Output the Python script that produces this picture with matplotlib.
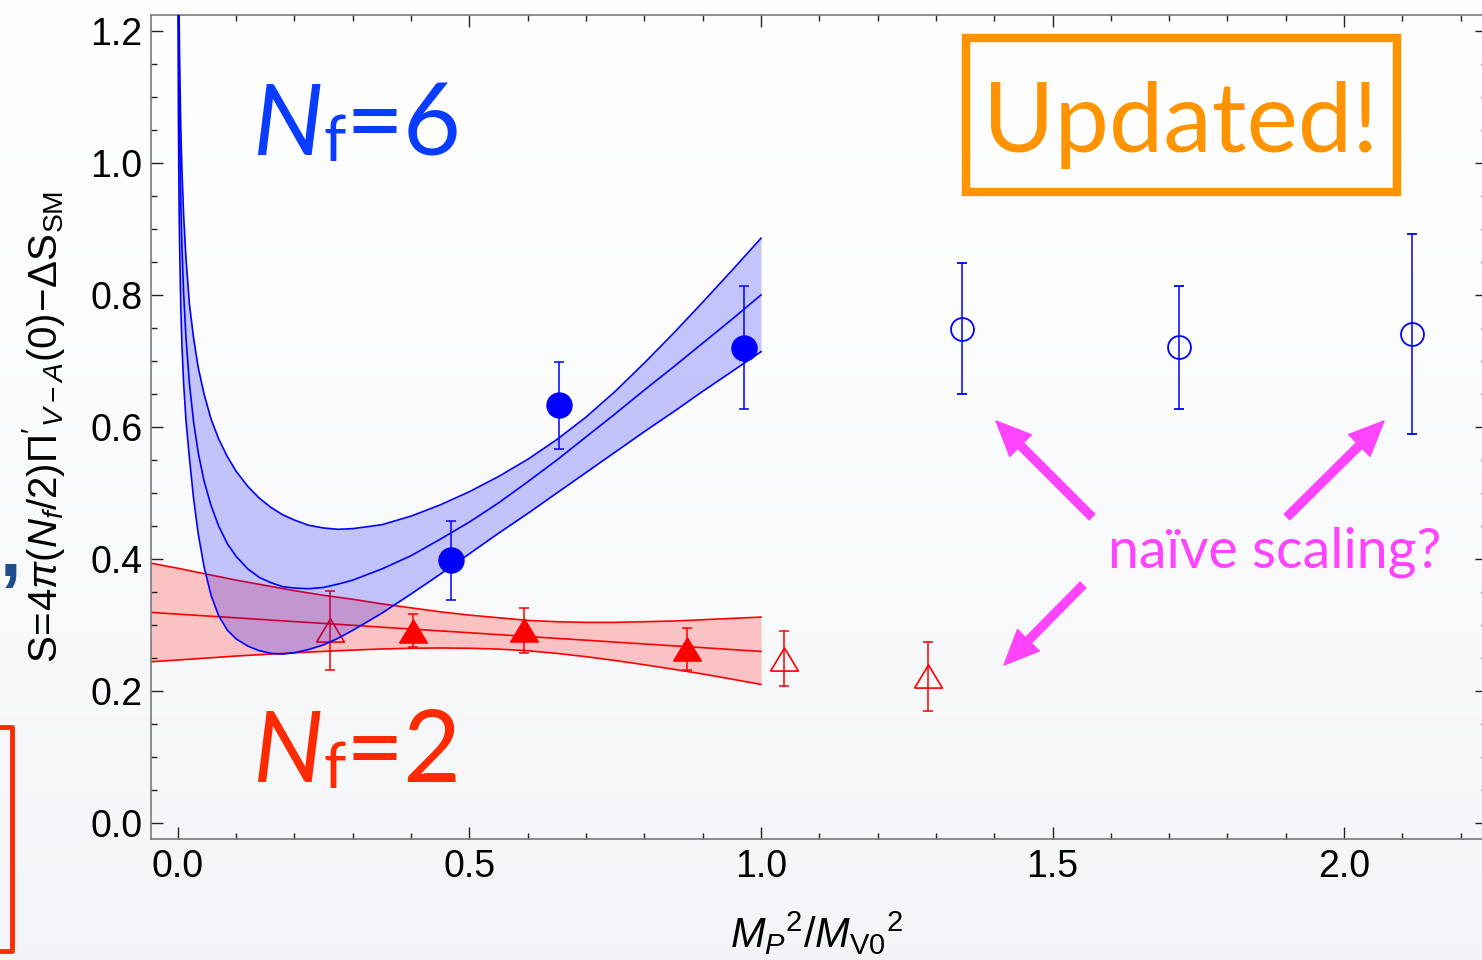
import numpy as np
import matplotlib
matplotlib.use("Agg")
import matplotlib.pyplot as plt
from matplotlib.patches import Rectangle
from matplotlib.lines import Line2D
from matplotlib.ticker import MultipleLocator, FormatStrFormatter

plt.rcParams['font.family'] = ['Liberation Sans', 'DejaVu Sans']
plt.rcParams['mathtext.fontset'] = 'custom'
plt.rcParams['mathtext.rm'] = 'Liberation Sans'
plt.rcParams['mathtext.it'] = 'Liberation Sans:italic'
plt.rcParams['mathtext.bf'] = 'Liberation Sans:bold'

### data

# Nf=6 fit band (lower / central / upper curve)
band6_x = [0.0002, 0.0005, 0.001, 0.002, 0.003, 0.005, 0.007, 0.01, 0.014, 0.02,
           0.027, 0.035, 0.045, 0.057, 0.07, 0.085, 0.1, 0.12, 0.14, 0.16,
           0.18, 0.2, 0.225, 0.25, 0.275, 0.3, 0.35, 0.4, 0.45, 0.5,
           0.55, 0.6, 0.65, 0.7, 0.75, 0.8, 0.85, 0.9, 0.95, 1.0]
band6_lo = [1.370, 1.200, 1.075, 0.950, 0.878, 0.785, 0.725, 0.665, 0.610, 0.552,
            0.492, 0.438, 0.388, 0.345, 0.314, 0.292, 0.279, 0.268, 0.261, 0.257,
            0.256, 0.258, 0.263, 0.270, 0.280, 0.292, 0.318, 0.347, 0.377, 0.408,
            0.439, 0.469, 0.500, 0.531, 0.562, 0.593, 0.623, 0.654, 0.684, 0.714]
band6_mid = [1.617, 1.424, 1.279, 1.133, 1.049, 0.943, 0.874, 0.802, 0.735, 0.665,
             0.608, 0.561, 0.518, 0.481, 0.450, 0.423, 0.404, 0.385, 0.372, 0.364,
             0.358, 0.356, 0.355, 0.357, 0.362, 0.368, 0.385, 0.405, 0.430, 0.456,
             0.485, 0.517, 0.550, 0.585, 0.620, 0.656, 0.691, 0.727, 0.763, 0.800]
band6_hi = [1.700, 1.520, 1.380, 1.240, 1.160, 1.055, 0.990, 0.920, 0.855, 0.785,
            0.735, 0.690, 0.650, 0.612, 0.582, 0.555, 0.533, 0.510, 0.492, 0.478,
            0.467, 0.459, 0.451, 0.447, 0.445, 0.446, 0.452, 0.465, 0.482, 0.502,
            0.525, 0.551, 0.581, 0.615, 0.654, 0.697, 0.742, 0.789, 0.837, 0.886]

# Nf=2 fit band
band2_x = [-0.06, 0.0, 0.05, 0.1, 0.15, 0.2, 0.25, 0.3, 0.35, 0.4, 0.45,
           0.5, 0.55, 0.6, 0.65, 0.7, 0.75, 0.8, 0.85, 0.9, 0.95, 1.0]
band2_hi = [0.396, 0.386, 0.377, 0.368, 0.360, 0.352, 0.345, 0.339, 0.332, 0.326, 0.320,
            0.315, 0.311, 0.307, 0.305, 0.304, 0.304, 0.305, 0.306, 0.308, 0.310, 0.312]
band2_mid = [0.320, 0.3165, 0.3137, 0.3109, 0.308, 0.3052, 0.3024, 0.2996, 0.2967, 0.2939, 0.2911,
             0.2883, 0.2854, 0.2826, 0.2798, 0.277, 0.2741, 0.2713, 0.2685, 0.2657, 0.2628, 0.260]
band2_lo = [0.2435, 0.247, 0.250, 0.253, 0.2555, 0.258, 0.260, 0.262, 0.2637, 0.2648, 0.2652,
            0.2648, 0.2635, 0.261, 0.257, 0.252, 0.2462, 0.2398, 0.233, 0.2258, 0.218, 0.210]

# Nf=6 lattice points (filled: used in fit, open: naive scaling)
nf6_x = [0.468, 0.654, 0.971]
nf6_y = [0.398, 0.633, 0.720]
nf6_err = [0.060, 0.066, 0.093]
nf6o_x = [1.344, 1.716, 2.116]
nf6o_y = [0.749, 0.721, 0.741]
nf6o_err = [0.099, 0.093, 0.152]

# Nf=2 lattice points
nf2_x = [0.404, 0.594, 0.874]
nf2_y = [0.291, 0.292, 0.264]
nf2_err = [0.025, 0.034, 0.032]
nf2o_x = [0.261, 1.039, 1.286]
nf2o_y = [0.292, 0.249, 0.222]
nf2o_err = [0.060, 0.042, 0.052]

BLUE = '#0000ff'
RED = '#ff0000'
MAGENTA = '#ff44ff'
ORANGE = '#ff9400'

W, H = 1482, 960
fig = plt.figure(figsize=(W / 100, H / 100), dpi=100)


def fx(px):
    return px / W


def fy(py):
    return 1 - py / H


# slide background: white at top, light grey at the bottom
bg = fig.add_axes([0, 0, 1, 1], zorder=-10)
t = np.linspace(0, 1, 256)[:, None, None]
top = np.array([1.0, 1.0, 1.0])
bot = np.array([0.955, 0.96, 0.972])
grad = top + (bot - top) * t ** 1.3
bg.imshow(grad, aspect='auto', extent=[0, 1, 0, 1])
bg.set_axis_off()

ax = fig.add_axes([fx(151), fy(839), fx(1487) - fx(151), fy(15) - fy(839)])
ax.patch.set_alpha(0)

# Nf=2 band
ax.fill_between(band2_x, band2_lo, band2_hi, color=RED, alpha=0.22, lw=0, zorder=1)
for yy in (band2_lo, band2_mid, band2_hi):
    ax.plot(band2_x, yy, color=RED, lw=1.2, zorder=2)

tri = [(-0.6, -0.5), (0.6, -0.5), (0.0, 0.5), (-0.6, -0.5)]
ax.errorbar(nf2_x, nf2_y, yerr=nf2_err, fmt='none', ecolor=RED, elinewidth=1.1,
            capsize=3.6, capthick=1.1, zorder=3)
ax.plot(nf2_x, nf2_y, ls='none', marker=tri, ms=20, color=RED, zorder=3)
ax.errorbar(nf2o_x, nf2o_y, yerr=nf2o_err, fmt='none', ecolor=RED, elinewidth=1.1,
            capsize=3.6, capthick=1.1, zorder=3)
ax.plot(nf2o_x, nf2o_y, ls='none', marker=tri, ms=20, mfc='none', mec=RED, mew=1.2, zorder=3)

# Nf=6 band (drawn over the Nf=2 points)
ax.fill_between(band6_x, band6_lo, band6_hi, color=BLUE, alpha=0.22, lw=0, zorder=4)
for yy in (band6_lo, band6_mid, band6_hi):
    ax.plot(band6_x, yy, color=BLUE, lw=1.2, zorder=5)

ax.errorbar(nf6_x, nf6_y, yerr=nf6_err, fmt='o', ms=18, color=BLUE, elinewidth=1.1,
            capsize=3.6, capthick=1.1, zorder=6)
ax.errorbar(nf6o_x, nf6o_y, yerr=nf6o_err, fmt='o', ms=16.5, mfc='none', mec=BLUE, mew=1.3,
            color=BLUE, elinewidth=1.1, capsize=3.6, capthick=1.1, zorder=6)

ax.set_xlim(-0.046, 2.245)
ax.set_ylim(-0.0242, 1.2242)
ax.xaxis.set_major_locator(MultipleLocator(0.5))
ax.xaxis.set_minor_locator(MultipleLocator(0.1))
ax.yaxis.set_major_locator(MultipleLocator(0.2))
ax.yaxis.set_minor_locator(MultipleLocator(0.05))
ax.xaxis.set_major_formatter(FormatStrFormatter('%.1f'))
ax.yaxis.set_major_formatter(FormatStrFormatter('%.1f'))
ax.tick_params(which='both', direction='in', top=True, right=True, color='#222222', width=1.0)
ax.tick_params(which='major', length=8.5, labelsize=27)
ax.tick_params(which='minor', length=4.3)
ax.tick_params(axis='x', pad=7)
ax.tick_params(axis='y', pad=6)
for sp in ax.spines.values():
    sp.set_color('#7a7a7a')
    sp.set_linewidth(1.2)


def nf_label(x, y, rest, color):
    t1 = ax.text(x, y, "N", fontsize=72, style='italic', color=color, family='Lato',
                 va='baseline', ha='left', zorder=7)
    t2 = ax.annotate("f", xy=(1, 0), xycoords=t1, fontsize=46, color=color, family='Lato',
                     va='bottom', ha='left', zorder=7)
    ax.annotate(rest, xy=(1, 0), xycoords=t2, fontsize=72, color=color, family='Lato',
                va='bottom', ha='left', zorder=7)


nf_label(0.128, 1.012, "=6", '#0a3cff')
nf_label(0.128, 0.062, "=2", '#ff2a00')

# "Updated!" box
fig.patches.append(Rectangle((fx(966), fy(191.5)), fx(1397) - fx(966), fy(38) - fy(191.5),
                             transform=fig.transFigure, fill=False, ec=ORANGE, lw=6.1))
fig.text(fx(1181), fy(152), "Updated!", ha='center', va='baseline', fontsize=70,
         color=ORANGE, family='Lato')

# naive scaling annotation
fig.text(fx(1108), fy(568), "naïve scaling?", ha='left', va='baseline', fontsize=40,
         color=MAGENTA, family='Lato')
arrows = [((1092, 517), (996, 421)), ((1287, 517), (1384, 421)), ((1083, 585), (1004, 665))]
for (x0, y0), (x1, y1) in arrows:
    ax.annotate('', xy=(x1, H - y1), xytext=(x0, H - y0), xycoords='figure pixels',
                arrowprops=dict(arrowstyle='simple,head_length=1.25,head_width=1.1,tail_width=0.29',
                                color=MAGENTA, mutation_scale=20, shrinkA=0, shrinkB=0))

# axis labels
fig.text(fx(44), fy(427), r"$\mathrm{S}\!=\!4\pi(N_f/2)\Pi'_{V-A}(0)\!-\!\Delta\mathrm{S}_{\mathrm{SM}}$",
         rotation=90, ha='center', va='center', fontsize=29)
fig.text(fx(817), fy(933), r"$M_P{}^2/M_{\mathrm{V0}}{}^2$", ha='center', va='center', fontsize=30)

# bits of the slide around the chart
fig.text(fx(0), fy(556), ",", fontsize=56, color='#1f4e8c', fontweight='bold', va='center', ha='left')
fig.lines.append(Line2D([fx(0), fx(12), fx(12), fx(0)], [fy(727), fy(727), fy(951), fy(951)],
                        transform=fig.transFigure, color='#ff2a00', lw=3.5))

fig.savefig('out.png', dpi=100)
